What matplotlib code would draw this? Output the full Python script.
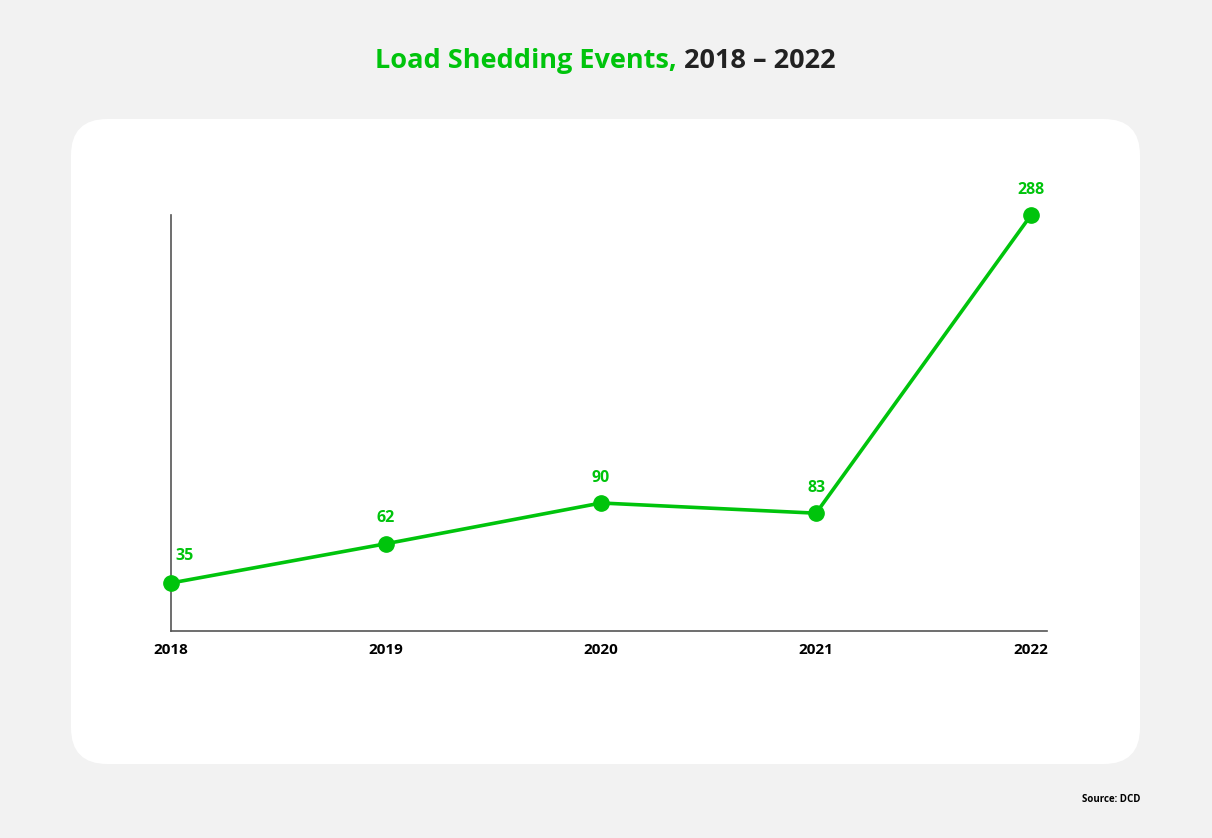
import matplotlib
matplotlib.use("Agg")
import matplotlib.pyplot as plt
from matplotlib.patches import FancyBboxPatch

years = ["2018", "2019", "2020", "2021", "2022"]
events = [35, 62, 90, 83, 288]

GREEN = "#00c40c"
DARK = "#222222"
FONT = "Open Sans"

W, H = 1212, 838
fig = plt.figure(figsize=(W / 100, H / 100), dpi=100)
fig.patch.set_facecolor("#f2f2f2")

# white rounded panel
panel = FancyBboxPatch((71 / W, 1 - 764 / H), (1140 - 71) / W, (764 - 119) / H,
                       boxstyle="round,pad=0,rounding_size=0.03",
                       transform=fig.transFigure, facecolor="white", edgecolor="none",
                       mutation_aspect=W / H, zorder=-5)
fig.patches.append(panel)

ax = fig.add_axes([171 / W, 1 - 631 / H, (1047 - 171) / W, (631 - 215) / H])
ax.set_zorder(2)
ax.set_facecolor("none")
x = list(range(len(years)))
ax.plot(x, events, color=GREEN, lw=2.6, marker="o", ms=11, clip_on=False, zorder=3)
ax.set_xlim(0, 4.074)
ax.set_ylim(2, 288)
for s in ["top", "right"]:
    ax.spines[s].set_visible(False)
for s in ["left", "bottom"]:
    ax.spines[s].set_color("#555555")
    ax.spines[s].set_linewidth(1.2)
ax.set_yticks([])
ax.set_xticks(x)
ax.set_xticklabels(years, fontfamily=FONT, fontweight="bold", fontsize=11, color="black")
ax.tick_params(axis="x", length=0, pad=8.5)

for i, v in enumerate(events):
    if i == 0:
        ax.annotate(str(v), (i, v), xytext=(3, 14), textcoords="offset points",
                    ha="left", va="bottom", color=GREEN, fontfamily=FONT,
                    fontweight="bold", fontsize=11.5)
    else:
        ax.annotate(str(v), (i, v), xytext=(0, 12.5), textcoords="offset points",
                    ha="center", va="bottom", color=GREEN, fontfamily=FONT,
                    fontweight="bold", fontsize=11.5)

# two-colour title
fig.canvas.draw()
r = fig.canvas.get_renderer()
t1 = fig.text(0, 1 - 61 / H, "Load Shedding Events, ", color=GREEN, fontfamily=FONT,
              fontweight="bold", fontsize=19.5, va="center", ha="left")
t2 = fig.text(0, 1 - 61 / H, "2018 – 2022", color=DARK, fontfamily=FONT,
              fontweight="bold", fontsize=19.5, va="center", ha="left")
w1 = t1.get_window_extent(r).width
w2 = t2.get_window_extent(r).width
start = 605.5 - (w1 + w2) / 2
t1.set_x(start / W)
t2.set_x((start + w1) / W)

fig.text(1140 / W, 1 - 799 / H, "Source: DCD", color="black", fontfamily=FONT,
         fontweight="bold", fontsize=7, ha="right", va="center")

fig.savefig("out.png", dpi=100, facecolor=fig.get_facecolor())
